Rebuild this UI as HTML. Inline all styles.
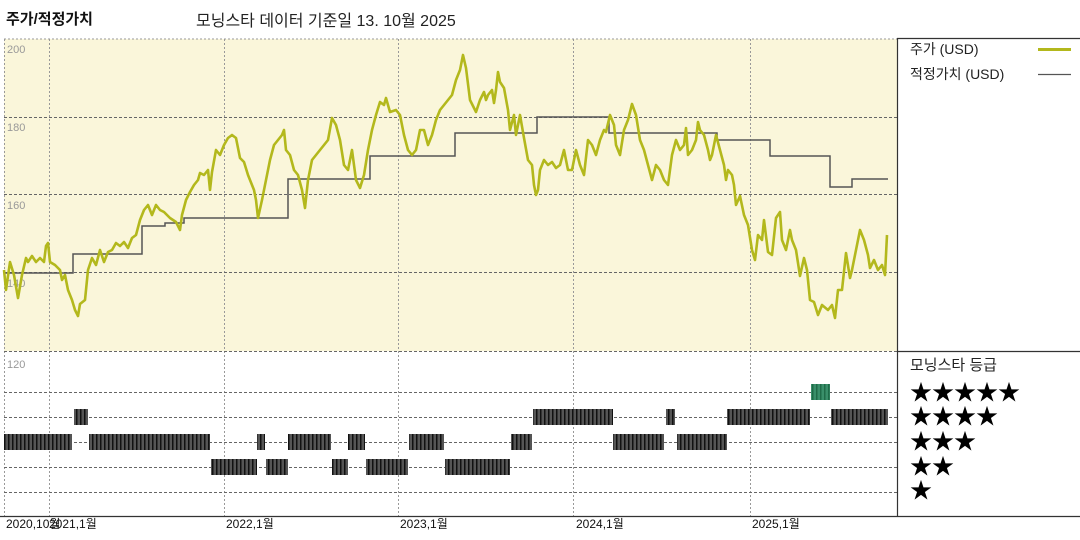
<!DOCTYPE html>
<html><head><meta charset="utf-8"><style>
body{margin:0;background:#fff;}
svg{display:block;font-family:"Liberation Sans","Noto Sans CJK KR",sans-serif;}
</style></head><body>
<svg width="1080" height="540" viewBox="0 0 1080 540">
<defs>
<pattern id="st" width="4" height="10" patternUnits="userSpaceOnUse"><rect width="4" height="10" fill="#555"/><rect width="1.5" height="10" fill="#111"/></pattern>
<pattern id="gs" width="4" height="10" patternUnits="userSpaceOnUse"><rect width="4" height="10" fill="#3a8f6a"/><rect width="1.5" height="10" fill="#1f6b48"/></pattern>
</defs>
<text x="6" y="24" font-size="15" font-weight="bold" fill="#111">주가/적정가치</text>
<text x="196" y="26" font-size="16" fill="#222">모닝스타 데이터 기준일 13. 10월 2025</text>
<rect x="4" y="39" width="893" height="312" fill="#faf6da"/>
<g stroke="#999" stroke-dasharray="2,2" fill="none" stroke-width="1">
<line x1="4" y1="39" x2="897" y2="39"/>
<line x1="4.5" y1="39" x2="4.5" y2="516"/>
<line x1="49.5" y1="39" x2="49.5" y2="516"/>
<line x1="224.5" y1="39" x2="224.5" y2="516"/>
<line x1="398.5" y1="39" x2="398.5" y2="516"/>
<line x1="573.5" y1="39" x2="573.5" y2="516"/>
<line x1="750.5" y1="39" x2="750.5" y2="516"/>
</g>
<g stroke="#666" stroke-dasharray="3,2" fill="none" stroke-width="1">
<line x1="4" y1="117.5" x2="897" y2="117.5"/>
<line x1="4" y1="194.5" x2="897" y2="194.5"/>
<line x1="4" y1="272.5" x2="897" y2="272.5"/>
<line x1="4" y1="351.5" x2="897" y2="351.5"/>
<line x1="4" y1="392.5" x2="897" y2="392.5"/>
<line x1="4" y1="417.5" x2="897" y2="417.5"/>
<line x1="4" y1="442.5" x2="897" y2="442.5"/>
<line x1="4" y1="467.5" x2="897" y2="467.5"/>
<line x1="4" y1="492.5" x2="897" y2="492.5"/>
</g>
<g font-size="11" fill="#999">
<text x="7" y="53">200</text><text x="7" y="131">180</text><text x="7" y="209">160</text><text x="7" y="287">140</text><text x="7" y="368">120</text>
</g>
<polyline fill="none" stroke="#555" stroke-width="1.5" points="4,273 73,273 73,254 142,254 142,226 165,226 165,223 184,223 184,218 288,218 288,179 370,179 370,156 455,156 455,133 537,133 537,117 609,117 609,133 717,133 717,140 770,140 770,156 830,156 830,187 852,187 852,179 888,179"/>
<polyline fill="none" stroke="#b3b81c" stroke-width="2.6" stroke-linejoin="round" points="4,270 6,290 10,262 14,275 18,298 22,275 26,258 28,262 32,256 36,262 40,258 44,262 46,246 48,243 50,262 55,265 60,270 62,280 65,275 68,290 72,300 75,310 78,316 80,304 85,300 88,270 92,258 96,265 100,250 104,262 108,252 112,250 116,243 120,246 124,242 128,248 132,238 136,235 140,220 144,210 148,205 152,215 156,205 160,210 164,212 170,218 176,222 180,230 182,215 186,200 190,192 194,185 198,180 200,173 204,175 208,170 210,190 212,172 216,150 220,155 224,145 228,138 232,135 236,138 240,158 244,162 248,175 254,190 256,200 258,218 262,200 266,180 270,160 274,145 278,140 282,135 284,130 286,150 290,155 294,170 298,175 302,190 305,208 308,180 312,160 316,155 320,150 324,145 328,140 332,118 336,125 340,140 344,165 348,170 352,150 356,180 360,188 364,175 368,150 372,130 376,115 380,102 384,105 386,98 390,112 396,110 400,115 404,135 408,150 412,155 416,150 420,130 424,130 428,145 432,135 436,120 440,110 444,105 448,100 452,95 456,80 460,70 463,55 466,68 470,100 474,108 476,112 480,100 484,92 486,100 488,95 492,90 494,103 496,90 498,72 500,82 504,88 508,110 510,130 514,115 516,135 520,115 524,138 528,160 532,165 534,185 536,195 538,190 540,170 544,160 548,165 552,162 556,168 560,165 564,150 568,170 572,170 576,150 580,165 584,175 588,140 592,145 596,155 600,140 604,130 606,132 610,115 614,125 616,145 620,155 624,130 628,120 632,104 636,115 640,140 644,150 648,165 652,180 656,165 660,170 664,180 668,185 672,155 676,140 680,150 684,145 686,128 688,155 692,150 696,140 698,122 700,130 704,135 708,150 710,160 712,155 716,135 720,150 724,165 726,180 728,170 732,175 734,185 736,205 740,196 744,215 748,225 752,250 755,260 758,235 762,240 764,220 768,252 772,255 776,218 780,212 782,240 786,250 790,230 792,240 796,250 800,276 804,258 807,270 810,300 814,302 818,315 822,305 828,310 832,305 835,318 838,290 842,290 846,253 850,278 852,270 856,250 860,230 864,240 868,255 870,268 874,260 878,270 882,265 885,275 887,235"/>
<g fill="url(#st)">
<rect x="74" y="409" width="14" height="16"/><rect x="533" y="409" width="80" height="16"/><rect x="666" y="409" width="9" height="16"/><rect x="727" y="409" width="83" height="16"/><rect x="831" y="409" width="57" height="16"/>
<rect x="4" y="434" width="68" height="16"/><rect x="89" y="434" width="121" height="16"/><rect x="257" y="434" width="8" height="16"/><rect x="288" y="434" width="43" height="16"/><rect x="348" y="434" width="17" height="16"/><rect x="409" y="434" width="35" height="16"/><rect x="511" y="434" width="21" height="16"/><rect x="613" y="434" width="51" height="16"/><rect x="677" y="434" width="50" height="16"/>
<rect x="211" y="459" width="46" height="16"/><rect x="266" y="459" width="22" height="16"/><rect x="332" y="459" width="16" height="16"/><rect x="366" y="459" width="42" height="16"/><rect x="445" y="459" width="65" height="16"/>
</g>
<rect x="811" y="384" width="19" height="16" fill="url(#gs)"/>
<g stroke="#333" stroke-width="1.2">
<line x1="897" y1="38.5" x2="1080" y2="38.5"/>
<line x1="897.5" y1="38" x2="897.5" y2="516"/>
<line x1="897" y1="351.5" x2="1080" y2="351.5"/>
<line x1="0" y1="516.5" x2="1080" y2="516.5"/>
</g>
<g font-size="14" fill="#222">
<text x="910" y="54">주가 (USD)</text>
<text x="910" y="79">적정가치 (USD)</text>
<text x="910" y="370" font-size="15">모닝스타 등급</text>
</g>
<line x1="1038" y1="49.5" x2="1071" y2="49.5" stroke="#b3b81c" stroke-width="3"/>
<line x1="1038" y1="74.5" x2="1071" y2="74.5" stroke="#555" stroke-width="1.2"/>
<g font-size="22" fill="#000">
<text x="910" y="400">★★★★★</text>
<text x="910" y="424">★★★★</text>
<text x="910" y="449">★★★</text>
<text x="910" y="474">★★</text>
<text x="910" y="498">★</text>
</g>
<g font-size="12" fill="#111">
<text x="6" y="528">2020,10월</text><text x="49" y="528">2021,1월</text><text x="226" y="528">2022,1월</text><text x="400" y="528">2023,1월</text><text x="576" y="528">2024,1월</text><text x="752" y="528">2025,1월</text>
</g>
</svg>
</body></html>
